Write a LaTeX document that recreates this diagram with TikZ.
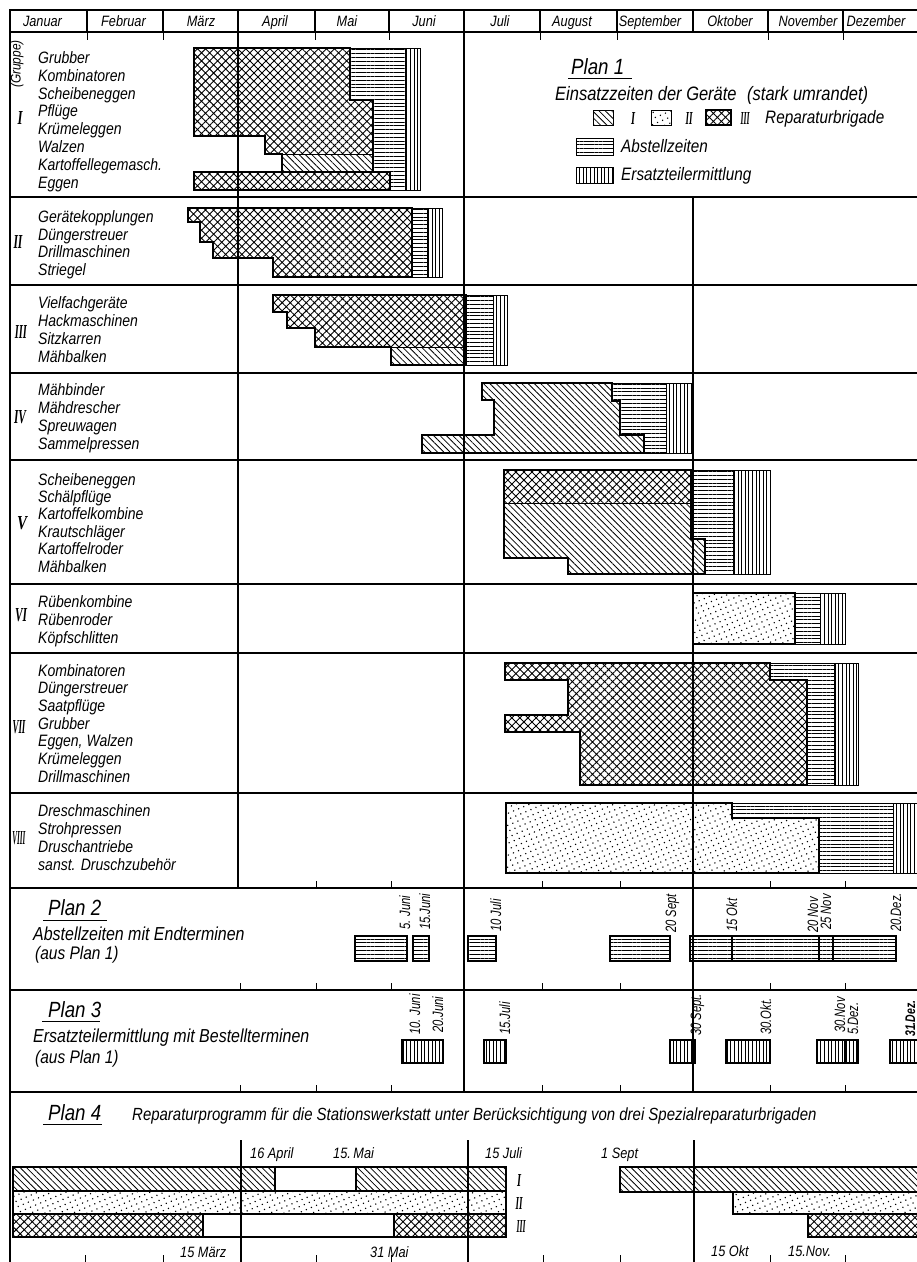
\documentclass[tikz,border=0pt]{standalone}
\usepackage{fontspec}
\usepackage{graphicx}
\setmainfont{Liberation Sans}[FakeStretch=0.85]
\newfontfamily\romf{Liberation Serif}
\usetikzlibrary{patterns.meta}
\newcommand\myfs[1]{\fontsize{#1}{#1}\selectfont\itshape}
\newcommand\rmn[3]{\resizebox{#1}{#2}{\romf\bfseries\itshape #3}}
\tikzset{
  brA/.style={pattern={Lines[angle=-45,distance=4.5pt,line width=0.8pt]}},
  brB/.style={pattern={Dots[distance=5.5pt,radius=0.8pt,angle=23]}},
  brC/.style={pattern={Hatch[angle=45,distance=5.7pt,line width=0.9pt]}},
  abst/.style={pattern={Lines[angle=0,distance=3.8pt,line width=0.75pt]}},
  ersz/.style={pattern={Lines[angle=90,distance=3.6pt,line width=0.7pt]}},
  heavy/.style={line width=2.8pt,line join=miter},
  thinb/.style={line width=1pt},
  medb/.style={line width=1.6pt},
  gridl/.style={line width=1.2pt},
  tick/.style={line width=1pt},
  item/.style={font=\myfs{16.5}, anchor=base west, inner sep=0pt},
  mon/.style={font=\myfs{15}, anchor=base, inner sep=0pt},
  leg/.style={font=\myfs{18}, anchor=base west, inner sep=0pt},
  ptitle/.style={font=\myfs{22}, anchor=base west, inner sep=0pt},
  pdesc/.style={font=\myfs{18.8}, anchor=base west, inner sep=0pt},
  dlab/.style={font=\myfs{15}, rotate=90, anchor=base west, inner sep=0pt},
  p4lab/.style={font=\myfs{15}, anchor=base west, inner sep=0pt},
  rn/.style={inner sep=0pt}
}
\newcommand\dl[1]{\scalebox{0.88}[1]{#1}}
\begin{document}
\begin{tikzpicture}[x=1pt,y=-1pt]
\fill[white] (0,0) rectangle (917,1262);
\useasboundingbox (0,0) rectangle (917,1262);

% ---------- header ----------
\draw[gridl] (10,10) -- (917,10);
\draw[gridl] (10,32) -- (917,32);
\foreach \x in {87,163,238,315,389,464,540,617,693,768,843} \draw[gridl] (\x,10) -- (\x,32);
\node[mon] (mJan) at (42.5,26.5) {Januar};
\node[mon] (mFeb) at (123.5,26.5) {Februar};
\node[mon] (mMar) at (201,26.5) {März};
\node[mon] (mApr) at (275,26.5) {April};
\node[mon] (mMai) at (347,26.5) {Mai};
\node[mon] (mJun) at (424,26.5) {Juni};
\node[mon] (mJul) at (500,26.5) {Juli};
\node[mon] (mAug) at (572,26.5) {August};
\node[mon] (mSep) at (650,26.5) {September};
\node[mon] (mOkt) at (730,26.5) {Oktober};
\node[mon] (mNov) at (808,26.5) {November};
\node[mon] (mDez) at (876,26.5) {Dezember};
\foreach \x in {87,163,315,389,540,617,768,843} \draw[tick] (\x,32) -- (\x,40);

% ---------- grid ----------
\draw[gridl] (238,32) -- (238,888);
\draw[gridl] (464,32) -- (464,1092);
\draw[gridl] (693,197) -- (693,1092);
\draw[gridl] (241,1140) -- (241,1262);
\draw[gridl] (468,1140) -- (468,1262);
\draw[gridl] (694,1140) -- (694,1262);
\foreach \y in {197,285,373,460,584,653,793,888,990,1092} \draw[gridl] (10,\y) -- (917,\y);
\draw[line width=2pt] (10,9) -- (10,1262);
\foreach \x in {316,391,542,620,770,845} \draw[tick] (\x,881) -- (\x,888);
\foreach \x in {240,316,391,542,620,770,845} {\draw[tick] (\x,983) -- (\x,990); \draw[tick] (\x,1085) -- (\x,1092);}
\foreach \x in {85,163,316,391,543,620,770,845} \draw[tick] (\x,1255) -- (\x,1262);

% ---------- group labels ----------
\node[rotate=90,font=\myfs{14},inner sep=0pt] (grp) at (17,64) {(Gruppe)};
\node[rn] (rI) at (20,118) {\rmn{5pt}{13pt}{I}};
\node[rn] (rII) at (18,242) {\rmn{9pt}{13pt}{II}};
\node[rn] (rIII) at (21,332) {\rmn{12pt}{13pt}{III}};
\node[rn] (rIV) at (20,417) {\rmn{12pt}{13pt}{IV}};
\node[rn] (rV) at (22,523) {\rmn{10pt}{13pt}{V}};
\node[rn] (rVI) at (21,615) {\rmn{12pt}{13pt}{VI}};
\node[rn] (rVII) at (19,727) {\rmn{13pt}{13pt}{VII}};
\node[rn] (rVIII) at (19,838) {\rmn{13pt}{13pt}{VIII}};

\node[item] (a1) at (38,63) {Grubber};
\node[item] (a2) at (38,81) {Kombinatoren};
\node[item] (a3) at (38,99) {Scheibeneggen};
\node[item] (a4) at (38,116) {Pflüge};
\node[item] (a5) at (38,134) {Krümeleggen};
\node[item] (a6) at (38,152) {Walzen};
\node[item] (a7) at (38,170) {Kartoffellegemasch.};
\node[item] (a8) at (38,188) {Eggen};

\node[item] (b1) at (38,222) {Gerätekopplungen};
\node[item] (b2) at (38,240) {Düngerstreuer};
\node[item] (b3) at (38,257) {Drillmaschinen};
\node[item] (b4) at (38,275) {Striegel};

\node[item] (c1) at (38,308) {Vielfachgeräte};
\node[item] (c2) at (38,326) {Hackmaschinen};
\node[item] (c3) at (38,344) {Sitzkarren};
\node[item] (c4) at (38,362) {Mähbalken};

\node[item] (d1) at (38,395) {Mähbinder};
\node[item] (d2) at (38,413) {Mähdrescher};
\node[item] (d3) at (38,431) {Spreuwagen};
\node[item] (d4) at (38,449) {Sammelpressen};

\node[item] (e1) at (38,485) {Scheibeneggen};
\node[item] (e2) at (38,502.4) {Schälpflüge};
\node[item] (e3) at (38,519.8) {Kartoffelkombine};
\node[item] (e4) at (38,537.2) {Krautschläger};
\node[item] (e5) at (38,554.6) {Kartoffelroder};
\node[item] (e6) at (38,572) {Mähbalken};

\node[item] (f1) at (38,607) {Rübenkombine};
\node[item] (f2) at (38,625) {Rübenroder};
\node[item] (f3) at (38,643) {Köpfschlitten};

\node[item] (g1) at (38,676) {Kombinatoren};
\node[item] (g2) at (38,693.7) {Düngerstreuer};
\node[item] (g3) at (38,711.3) {Saatpflüge};
\node[item] (g4) at (38,729) {Grubber};
\node[item] (g5) at (38,746.7) {Eggen, Walzen};
\node[item] (g6) at (38,764.3) {Krümeleggen};
\node[item] (g7) at (38,782) {Drillmaschinen};

\node[item] (h1) at (38,816) {Dreschmaschinen};
\node[item] (h2) at (38,834) {Strohpressen};
\node[item] (h3) at (38,852) {Druschantriebe};
\node[item] (h4) at (38,870) {sanst. Druschzubehör};

% ---------- legend (Plan 1) ----------
\node[ptitle] (p1t) at (571,74) {Plan 1};
\draw[line width=1pt] (568,78) -- (632,78);
\node[leg,font=\myfs{19.4}] (p1d) at (555,100) {Einsatzzeiten der Geräte\hspace{6pt} (stark umrandet)};
\fill[brA] (593,110) rectangle (613,125); \draw[thinb] (593,110) rectangle (613,125);
\node[rn] (lgI) at (633,118) {\rmn{4pt}{12pt}{I}};
\fill[brB] (651,110) rectangle (671,125); \draw[thinb] (651,110) rectangle (671,125);
\node[rn] (lgII) at (689,118) {\rmn{7pt}{12pt}{II}};
\fill[brC] (706,110) rectangle (731,125); \draw[medb] (706,110) rectangle (731,125);
\node[rn] (lgIII) at (745,118) {\rmn{9pt}{12pt}{III}};
\node[leg] (lgR) at (765,123) {Reparaturbrigade};
\fill[abst] (576,138) rectangle (613,155); \draw[thinb] (576,138) rectangle (613,155);
\node[leg] (lgA) at (621,152) {Abstellzeiten};
\fill[ersz] (576,167) rectangle (613,183); \draw[thinb] (576,167) rectangle (613,183);
\node[leg] (lgE) at (621,180) {Ersatzteilermittlung};

% ---------- group I ----------
\fill[brC] (194,48) -- (350,48) -- (350,100) -- (373,100) -- (373,154) -- (265,154) -- (265,136) -- (194,136) -- cycle;
\fill[brA] (282,154) rectangle (373,172);
\draw[thinb] (282,154) -- (373,154);
\fill[abst] (350,48) -- (405,48) -- (405,190) -- (390,190) -- (390,172) -- (373,172) -- (373,100) -- (350,100) -- cycle;
\fill[ersz] (405,48) rectangle (420,190);
\draw[thinb] (350,48) -- (420,48) -- (420,190) -- (390,190);
\draw[thinb] (405,48) -- (405,190);
\draw[heavy] (194,48) -- (350,48) -- (350,100) -- (373,100) -- (373,172) -- (282,172) -- (282,154) -- (265,154) -- (265,136) -- (194,136) -- cycle;
\fill[brC] (194,172) rectangle (390,190);
\draw[heavy] (194,172) rectangle (390,190);

% ---------- group II ----------
\fill[brC] (188,208) -- (412,208) -- (412,277) -- (273,277) -- (273,258) -- (213,258) -- (213,242) -- (200,242) -- (200,222) -- (188,222) -- cycle;
\fill[abst] (412,208) rectangle (427,277);
\fill[ersz] (427,208) rectangle (442,277);
\draw[thinb] (412,208) -- (442,208) -- (442,277) -- (412,277);
\draw[thinb] (427,208) -- (427,277);
\draw[heavy] (188,208) -- (412,208) -- (412,277) -- (273,277) -- (273,258) -- (213,258) -- (213,242) -- (200,242) -- (200,222) -- (188,222) -- cycle;

% ---------- group III ----------
\fill[brC] (273,295) -- (466,295) -- (466,347) -- (315,347) -- (315,328) -- (287,328) -- (287,312) -- (273,312) -- cycle;
\fill[brA] (391,347) rectangle (466,365);
\draw[thinb] (391,347) -- (466,347);
\fill[abst] (466,295) rectangle (493,365);
\fill[ersz] (493,295) rectangle (507,365);
\draw[thinb] (466,295) -- (507,295) -- (507,365) -- (466,365);
\draw[thinb] (493,295) -- (493,365);
\draw[heavy] (273,295) -- (466,295) -- (466,365) -- (391,365) -- (391,347) -- (315,347) -- (315,328) -- (287,328) -- (287,312) -- (273,312) -- cycle;

% ---------- group IV ----------
\fill[brA] (482,383) -- (612,383) -- (612,401) -- (620,401) -- (620,435) -- (644,435) -- (644,453) -- (422,453) -- (422,435) -- (494,435) -- (494,400) -- (482,400) -- cycle;
\fill[abst] (612,383) -- (666,383) -- (666,453) -- (644,453) -- (644,435) -- (620,435) -- (620,401) -- (612,401) -- cycle;
\fill[ersz] (666,383) rectangle (693,453);
\draw[thinb] (612,383) -- (693,383) -- (693,453) -- (644,453);
\draw[thinb] (666,383) -- (666,453);
\draw[heavy] (482,383) -- (612,383) -- (612,401) -- (620,401) -- (620,435) -- (644,435) -- (644,453) -- (422,453) -- (422,435) -- (494,435) -- (494,400) -- (482,400) -- cycle;

% ---------- group V ----------
\fill[brC] (504,470) rectangle (691,503);
\fill[brA] (504,503) -- (691,503) -- (691,539) -- (705,539) -- (705,574) -- (568,574) -- (568,558) -- (504,558) -- cycle;
\draw[thinb] (504,503) -- (691,503);
\fill[abst] (691,470) -- (733,470) -- (733,574) -- (705,574) -- (705,539) -- (691,539) -- cycle;
\fill[ersz] (733,470) rectangle (770,574);
\draw[thinb] (691,470) -- (770,470) -- (770,574) -- (705,574);
\draw[thinb] (733,470) -- (733,574);
\draw[heavy] (504,470) -- (691,470) -- (691,539) -- (705,539) -- (705,574) -- (568,574) -- (568,558) -- (504,558) -- cycle;

% ---------- group VI ----------
\fill[brB] (693,593) rectangle (795,644);
\fill[abst] (795,593) rectangle (820,644);
\fill[ersz] (820,593) rectangle (845,644);
\draw[thinb] (795,593) -- (845,593) -- (845,644) -- (795,644);
\draw[thinb] (820,593) -- (820,644);
\draw[heavy] (693,593) rectangle (795,644);

% ---------- group VII ----------
\fill[brC] (505,663) -- (770,663) -- (770,680) -- (807,680) -- (807,785) -- (580,785) -- (580,732) -- (505,732) -- (505,715) -- (568,715) -- (568,680) -- (505,680) -- cycle;
\fill[abst] (770,663) -- (834,663) -- (834,785) -- (807,785) -- (807,680) -- (770,680) -- cycle;
\fill[ersz] (834,663) rectangle (858,785);
\draw[thinb] (770,663) -- (858,663) -- (858,785) -- (807,785);
\draw[thinb] (834,663) -- (834,785);
\draw[heavy] (505,663) -- (770,663) -- (770,680) -- (807,680) -- (807,785) -- (580,785) -- (580,732) -- (505,732) -- (505,715) -- (568,715) -- (568,680) -- (505,680) -- cycle;

% ---------- group VIII ----------
\fill[brB] (506,803) -- (732,803) -- (732,818) -- (819,818) -- (819,873) -- (506,873) -- cycle;
\fill[abst] (732,803) -- (893,803) -- (893,873) -- (819,873) -- (819,818) -- (732,818) -- cycle;
\fill[ersz] (893,803) rectangle (917,873);
\draw[thinb] (732,803) -- (917,803);
\draw[thinb] (819,873) -- (917,873);
\draw[thinb] (893,803) -- (893,873);
\draw[heavy] (506,803) -- (732,803) -- (732,818) -- (819,818) -- (819,873) -- (506,873) -- cycle;

% ---------- Plan 2 ----------
\node[ptitle] (p2t) at (48,915) {Plan 2};
\draw[line width=1pt] (43,920) -- (107,920);
\node[pdesc] (p2d) at (33,940) {Abstellzeiten mit Endterminen};
\node[pdesc,font=\myfs{18.2}] (p2e) at (35,959) {(aus Plan 1)};
\foreach \a/\b in {355/407,413/429,468/496,610/670,690/896} {
  \fill[abst] (\a,936) rectangle (\b,961);
  \draw[line width=2.6pt] (\a,936) rectangle (\b,961);
}
\foreach \x in {732,819,833} \draw[line width=2pt] (\x,936) -- (\x,961);
\node[dlab] (q1) at (410,930) {\dl{5. Juni}};
\node[dlab] (q2) at (430,930) {\dl{15.Juni}};
\node[dlab] (q3) at (501,932) {\dl{10 Juli}};
\node[dlab] (q4) at (676,933) {\dl{20 Sept}};
\node[dlab] (q5) at (737,932) {\dl{15 Okt}};
\node[dlab] (q6) at (818,933) {\dl{20 Nov}};
\node[dlab] (q7) at (831,930) {\dl{25 Nov}};
\node[dlab] (q8) at (901,932) {\dl{20.Dez.}};

% ---------- Plan 3 ----------
\node[ptitle] (p3t) at (48,1017) {Plan 3};
\draw[line width=1pt] (42,1021) -- (100,1021);
\node[pdesc] (p3d) at (33,1042) {Ersatzteilermittlung mit Bestellterminen};
\node[pdesc,font=\myfs{18.2}] (p3e) at (35,1063) {(aus Plan 1)};
\foreach \a/\b in {402/443,484/506,670/695,726/770,817/858} {
  \fill[ersz] (\a,1040) rectangle (\b,1063);
  \draw[line width=2.6pt] (\a,1040) rectangle (\b,1063);
}
\draw[line width=1.6pt] (845,1040) -- (845,1063);
\fill[ersz] (890,1040) rectangle (917,1063);
\draw[line width=2.6pt] (918,1040) -- (890,1040) -- (890,1063) -- (918,1063);
\node[dlab] (s1) at (420,1035) {\dl{10. Juni}};
\node[dlab] (s2) at (443,1033) {\dl{20.Juni}};
\node[dlab] (s3) at (510,1035) {\dl{15.Juli}};
\node[dlab] (s4) at (701,1036) {\dl{30 Sept.}};
\node[dlab] (s5) at (771,1035) {\dl{30.Okt.}};
\node[dlab] (s6) at (845,1033) {\dl{30.Nov}};
\node[dlab] (s7) at (858,1035) {\dl{5.Dez.}};
\node[dlab,font=\myfs{14}] (s8) at (915,1037) {\dl{\bfseries 31.Dez.}};

% ---------- Plan 4 ----------
\node[ptitle] (p4t) at (48,1120) {Plan 4};
\draw[line width=1pt] (43,1124) -- (102,1124);
\node[pdesc,font=\myfs{17.6}] (p4d) at (132,1120) {Reparaturprogramm für die Stationswerkstatt unter Berücksichtigung von drei Spezialreparaturbrigaden};
\node[p4lab] (t1) at (250,1158) {16 April};
\node[p4lab] (t2) at (333,1158) {15.\,Mai};
\node[p4lab] (t3) at (485,1158) {15 Juli};
\node[p4lab] (t4) at (601,1158) {1 Sept};
\node[p4lab] (t5) at (180,1257) {15 März};
\node[p4lab] (t6) at (370,1257) {31 Mai};
\node[p4lab] (t7) at (711,1256) {15 Okt};
\node[p4lab] (t8) at (788,1256) {15.Nov.};
% left block
\fill[brA] (13,1167) rectangle (275,1191);
\fill[brA] (356,1167) rectangle (506,1191);
\fill[brB] (13,1191) rectangle (506,1214);
\fill[brC] (13,1214) rectangle (203,1237);
\fill[brC] (394,1214) rectangle (506,1237);
\draw[medb] (13,1191) -- (506,1191);
\draw[medb] (13,1214) -- (506,1214);
\draw[medb] (275,1167) -- (275,1191);
\draw[medb] (356,1167) -- (356,1191);
\draw[medb] (203,1214) -- (203,1237);
\draw[medb] (394,1214) -- (394,1237);
\draw[heavy] (13,1167) rectangle (506,1237);
\node[rn] (u1) at (519,1180) {\rmn{4pt}{12pt}{I}};
\node[rn] (u2) at (519,1203) {\rmn{7pt}{12pt}{II}};
\node[rn] (u3) at (521,1226) {\rmn{9pt}{12pt}{III}};
% right block
\fill[brA] (620,1167) rectangle (917,1192);
\fill[brB] (733,1192) rectangle (917,1214);
\fill[brC] (808,1214) rectangle (917,1237);
\draw[medb] (733,1192) -- (918,1192);
\draw[medb] (808,1214) -- (918,1214);
\draw[heavy] (918,1167) -- (620,1167) -- (620,1192) -- (733,1192) -- (733,1214) -- (808,1214) -- (808,1237) -- (918,1237);
\end{tikzpicture}
\end{document}
